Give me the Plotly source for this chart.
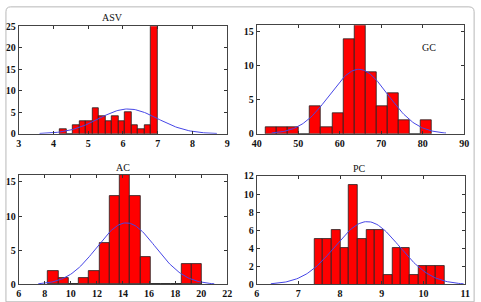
import numpy as np
import plotly.graph_objects as go

# ---- data ----
asv_edges = (4.19, 6.99)
asv_counts = [1, 0, 2, 3, 3, 6, 4, 3, 4, 3, 5, 2, 1, 2, 25]
asv_fit = dict(mu=6.15, sigma=0.85, peak=5.75)

gc_edges = (42.2, 82.2)
gc_counts = [1, 1, 1, 0, 4, 1, 3, 14, 16, 9, 4, 6, 2, 0, 2]
gc_fit = dict(mu=64.6, sigma=7.0, peak=9.5)

ac_edges = (8.25, 20.05)
ac_counts = [2, 1, 0, 1, 2, 6, 13, 16, 13, 4, 0, 0, 0, 3, 3]
ac_fit = dict(mu=14.25, sigma=2.25, peak=9.0)

pc_edges = (7.38, 10.5)
pc_counts = [5, 5, 6, 4, 11, 5, 6, 6, 1, 4, 4, 1, 2, 2, 2]
pc_fit = dict(mu=8.65, sigma=0.77, peak=6.95)

asv_xticks = [3, 4, 5, 6, 7, 8, 9]
asv_yticks = [0, 5, 10, 15, 20, 25]
gc_xticks = [40, 50, 60, 70, 80, 90]
gc_yticks = [0, 5, 10, 15]
ac_xticks = [6, 8, 10, 12, 14, 16, 18, 20, 22]
ac_yticks = [0, 5, 10, 15]
pc_xticks = [6, 7, 8, 9, 10, 11]
pc_yticks = [0, 2, 4, 6, 8, 10, 12]

W, H = 481, 302
FONT = "Liberation Serif, Times New Roman, serif"

panels = [
    ("ASV", asv_edges, asv_counts, asv_fit, [3, 9], [0, 25], asv_xticks, asv_yticks, (14, 227, 21, 133)),
    ("GC", gc_edges, gc_counts, gc_fit, [40, 90], [0, 16], gc_xticks, gc_yticks, (257, 469, 20, 133)),
    ("AC", ac_edges, ac_counts, ac_fit, [6, 22], [0, 16], ac_xticks, ac_yticks, (14, 227, 176, 290)),
    ("PC", pc_edges, pc_counts, pc_fit, [6, 11], [0, 12], pc_xticks, pc_yticks, (257, 470, 177, 290)),
]

fig = go.Figure()
layout = {}
for i, (name, edges, counts, fit, xr, yr, xt, yt, box) in enumerate(panels):
    n = len(counts)
    bw = (edges[1] - edges[0]) / n
    centers = [edges[0] + bw * (k + 0.5) for k in range(n)]
    sfx = "" if i == 0 else str(i + 1)
    fig.add_trace(go.Bar(
        x=centers, y=counts, width=[bw] * n,
        marker=dict(color="#ff0000", line=dict(color="#222222", width=0.8)),
        xaxis="x" + sfx, yaxis="y" + sfx, showlegend=False,
    ))
    mu, sg, pk = fit["mu"], fit["sigma"], fit["peak"]
    xs = np.linspace(mu - 3 * sg, mu + 3 * sg, 121)
    ys = pk * np.exp(-((xs - mu) ** 2) / (2 * sg ** 2))
    fig.add_trace(go.Scatter(
        x=xs, y=ys, mode="lines", line=dict(color="#4646e6", width=1),
        xaxis="x" + sfx, yaxis="y" + sfx, showlegend=False, hoverinfo="skip",
    ))
    x0, x1, yt0, yb0 = box
    axcommon = dict(
        showgrid=False, zeroline=False, showline=True, linecolor="#444444", linewidth=1,
        mirror="ticks", ticks="inside", ticklen=3, tickcolor="#333333",
        tickfont=dict(family=FONT, size=10, color="#111111", weight="bold"),
    )
    layout["xaxis" + sfx] = dict(
        axcommon, domain=[x0 / W, x1 / W], range=xr, tickvals=xt,
        anchor="y" + sfx,
    )
    layout["yaxis" + sfx] = dict(
        axcommon, domain=[1 - yb0 / H, 1 - yt0 / H], range=yr, tickvals=yt,
        anchor="x" + sfx,
    )

fig.update_layout(
    width=W, height=H, margin=dict(l=0, r=0, t=0, b=0),
    paper_bgcolor="white", plot_bgcolor="white", bargap=0,
    **layout,
)

titles = [("ASV", 110, 12), ("GC", 433, 43), ("AC", 121, 168), ("PC", 362, 169)]
for txt, px, py in titles:
    fig.add_annotation(
        text=txt, x=px / W, y=1 - py / H, xref="paper", yref="paper",
        showarrow=False, xanchor="center", yanchor="middle",
        font=dict(family=FONT, size=10, color="#111111"),
    )

# light outer frame
fig.add_shape(type="path", xref="paper", yref="paper",
              path="M 0.012,0.997 L 0.985,0.997 Q 0.996,0.997 0.996,0.98 L 0.996,-0.02 "
                   "L 0.002,-0.02 L 0.002,0.98 Q 0.002,0.997 0.012,0.997 Z",
              line=dict(color="#b8b8b8", width=1))

fig.write_html("out.html")
